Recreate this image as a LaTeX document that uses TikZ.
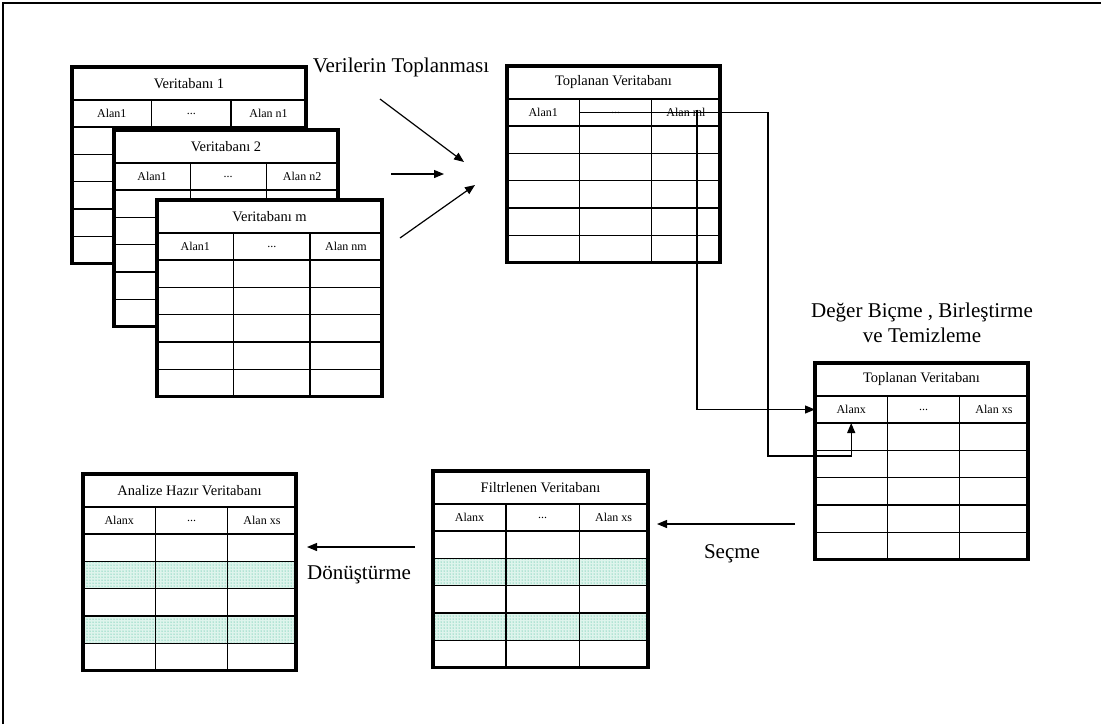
\documentclass[tikz,border=0pt]{standalone}
\usepackage{fontspec}
\setmainfont{Liberation Serif}
\usetikzlibrary{arrows.meta,patterns}
\definecolor{nane}{RGB}{222,244,236}
\definecolor{nokta}{RGB}{30,175,135}

% tablo: #1 ad, #2 sol x, #3 ust y, #4 genislik, #5 baslik, #6 ilk alan, #7 son alan, #8 golgeli satirlar
\newcommand{\tablo}[8]{%
  \pgfmathsetmacro{\xa}{#2}
  \pgfmathsetmacro{\xb}{#2+0.34*#4}
  \pgfmathsetmacro{\xc}{#2+0.68*#4}
  \pgfmathsetmacro{\xd}{#2+#4}
  \pgfmathsetmacro{\ya}{#3}
  \pgfmathsetmacro{\yb}{#3+33}
  \pgfmathsetmacro{\yc}{#3+60}
  \pgfmathsetmacro{\ye}{#3+196.5}
  \fill[white] (\xa,\ya) rectangle (\xd,\ye);
  \foreach \sat in {#8}{\ifnum\sat>0
    \fill[nane] (\xa,{\yc+27.3*(\sat-1)}) rectangle (\xd,{\yc+27.3*\sat});
    \fill[pattern=dots,pattern color=nokta] (\xa,{\yc+27.3*(\sat-1)}) rectangle (\xd,{\yc+27.3*\sat});\fi}
  \draw[ince] (\xa,\yb) -- (\xd,\yb) (\xa,\yc) -- (\xd,\yc) (\xb,\yb) -- (\xb,\ye) (\xc,\yb) -- (\xc,\ye);
  \foreach \k in {1,...,4}{\draw[ince] (\xa,{\yc+27.3*\k}) -- (\xd,{\yc+27.3*\k});}
  \draw[kalin] (\xa,\ya) rectangle (\xd,\ye);
  \node[baslik] (#1-b) at ({(\xa+\xd)/2},{(\ya+\yb)/2}) {#5};
  \node[alan] (#1-a1) at ({(\xa+\xb)/2},{(\yb+\yc)/2}) {#6};
  \node[alan] (#1-a2) at ({(\xb+\xc)/2},{(\yb+\yc)/2}) {...};
  \node[alan] (#1-a3) at ({(\xc+\xd)/2},{(\yb+\yc)/2}) {#7};
  \coordinate (#1-w) at (\xa,{(\yb+\yc)/2});
  \coordinate (#1-e) at (\xd,{(\yb+\yc)/2});
  \coordinate (#1-c1) at (\xb,{(\yb+\yc)/2});
  \coordinate (#1-s) at ({(\xa+\xb)/2},\yc);
}

\begin{document}
\begin{tikzpicture}[x=1pt,y=-1pt,
    ince/.style={line width=1.3pt},
    kalin/.style={line width=3.2pt},
    baslik/.style={inner sep=0pt,font=\fontsize{14.5}{16}\selectfont},
    alan/.style={inner sep=0pt,font=\fontsize{12}{14}\selectfont},
    yazi/.style={inner sep=0pt,align=center,font=\fontsize{21}{25}\selectfont},
    ok/.style={line width=1.2pt,-{Triangle[length=10pt,width=8pt]}}]
    \useasboundingbox (0,0) rectangle (1101,724);
    % cerceve
    \draw[line width=1.3pt] (3,724) -- (3,3) -- (1101,3);
    % kaynak veritabanlari
    \tablo{v1}{72}{67}{234}{Veritabanı 1}{Alan1}{Alan n1}{0}
    \tablo{v2}{114}{130}{224}{Veritabanı 2}{Alan1}{Alan n2}{0}
    \tablo{vm}{157}{200}{225}{Veritabanı m}{Alan1}{Alan nm}{0}
    % toplanan, filtrelenen, analize hazir
    \tablo{t1}{507}{66}{213}{Toplanan Veritabanı}{Alan1}{Alan ml}{0}
    \tablo{t2}{815}{363}{213}{Toplanan Veritabanı}{Alanx}{Alan xs}{0}
    \tablo{fv}{433}{471}{215}{Filtrlenen Veritabanı}{Alanx}{Alan xs}{2,4}
    \tablo{av}{83}{474}{213}{Analize Hazır Veritabanı}{Alanx}{Alan xs}{2,4}
    % verilerin toplanmasi
    \node[yazi] (vt) at (401,67) {Verilerin Toplanması};
    \coordinate (o1a) at (380,99);  \coordinate (o1b) at (464,162);
    \coordinate (o2a) at (391,174); \coordinate (o2b) at (444,174);
    \coordinate (o3a) at (400,238); \coordinate (o3b) at (475,185);
    \draw[ok] (o1a) -- (o1b);
    \draw[ok] (o2a) -- (o2b);
    \draw[ok] (o3a) -- (o3b);
    % deger bicme
    \node[yazi] (db) at (922,323) {Değer Biçme , Birleştirme\\ve Temizleme};
    \draw[ok] ([xshift=11pt,yshift=3pt]t1-a3.center) |- (t2-w);
    \draw[ok] (t1-c1) -- ([xshift=48pt]t1-e) |- ([yshift=-33pt]t2-s) -- (t2-s);
    % secme
    \node[yazi] (se) at (732,554) {Seçme};
    \coordinate (s1) at (795,524); \coordinate (s2) at (657,524);
    \draw[ok] (s1) -- (s2);
    % donusturme
    \node[yazi] (dn) at (359,575) {Dönüştürme};
    \coordinate (d1) at (415,547); \coordinate (d2) at (307,547);
    \draw[ok] (d1) -- (d2);
\end{tikzpicture}
\end{document}
